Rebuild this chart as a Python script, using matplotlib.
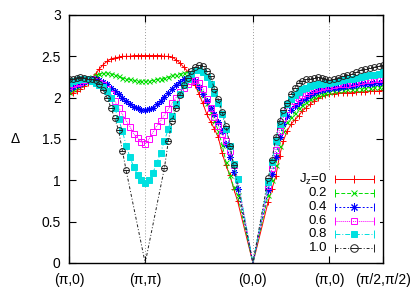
import numpy as np
import matplotlib
matplotlib.use('Agg')
import matplotlib.pyplot as plt
from matplotlib.patches import Rectangle

plt.rcParams['font.family'] = ['Liberation Sans', 'DejaVu Sans']
plt.rcParams['mathtext.fontset'] = 'custom'
plt.rcParams['mathtext.rm'] = 'Liberation Sans'
plt.rcParams['mathtext.it'] = 'Liberation Sans'

# k-path (pi,0) -> (pi,pi) -> (0,0) -> (pi,0) -> (pi/2,pi/2)
kpts = [(np.pi, 0), (np.pi, np.pi), (0, 0), (np.pi, 0), (np.pi / 2, np.pi / 2)]
klabels = ['(π,0)', '(π,π)', '(0,0)', '(π,0)', '(π/2,π/2)']
nsteps = [20, 28, 20, 12]

nan = np.nan

# gap Delta along the path, one list per Jz (segments joined end to end)
jz00 = ([2.04, 2.06, 2.08, 2.11, 2.14, 2.18, 2.23, 2.29, 2.35, 2.40, 2.44, 2.47, 2.48, 2.49, 2.50, 2.50, 2.50, 2.51, 2.51, 2.51, 2.51]
        + [2.51, 2.51, 2.51, 2.51, 2.50, 2.50, 2.49, 2.46, 2.42, 2.37, 2.32, 2.25, 2.15, 2.04, 1.93, 1.80, 1.71, 1.62, 1.52, 1.33, 1.18, 1.06, 0.90, 0.75, nan, nan, nan, 0]
        + [nan, nan, nan, 0.74, 0.90, 1.05, 1.30, 1.48, 1.60, 1.68, 1.73, 1.78, 1.84, 1.88, 1.92, 1.96, 1.99, 2.02, 2.03, 2.04]
        + [2.05, 2.06, 2.06, 2.06, 2.06, 2.07, 2.07, 2.07, 2.08, 2.08, 2.08, 2.09])
jz02 = ([2.07, 2.10, 2.13, 2.16, 2.19, 2.22, 2.25, 2.27, 2.29, 2.30, 2.30, 2.29, 2.28, 2.26, 2.24, 2.23, 2.22, 2.21, 2.20, 2.20, 2.20]
        + [2.20, 2.21, 2.22, 2.23, 2.24, 2.25, 2.27, 2.28, 2.29, 2.30, 2.30, 2.27, 2.20, 2.12, 2.03, 1.93, 1.83, 1.72, 1.60, 1.43, 1.22, 1.06, 0.92, 0.82, nan, nan, nan, 0]
        + [nan, nan, nan, 0.82, 1.00, 1.18, 1.42, 1.60, 1.70, 1.77, 1.82, 1.87, 1.91, 1.95, 1.98, 2.01, 2.03, 2.05, 2.06, 2.07]
        + [2.08, 2.09, 2.09, 2.10, 2.10, 2.11, 2.11, 2.12, 2.12, 2.13, 2.13, 2.14])
jz04 = ([2.11, 2.13, 2.15, 2.17, 2.19, 2.21, 2.22, 2.22, 2.21, 2.19, 2.16, 2.12, 2.08, 2.04, 2.00, 1.96, 1.92, 1.89, 1.87, 1.85, 1.85]
        + [1.86, 1.88, 1.92, 1.96, 2.01, 2.06, 2.11, 2.15, 2.19, 2.22, 2.24, 2.24, 2.20, 2.13, 2.05, 1.96, 1.88, 1.80, 1.71, 1.60, 1.44, 1.28, 1.10, 0.90, nan, nan, nan, 0]
        + [nan, nan, nan, 0.88, 1.08, 1.28, 1.52, 1.68, 1.78, 1.85, 1.90, 1.94, 1.97, 2.00, 2.03, 2.06, 2.08, 2.09, 2.10, 2.11]
        + [2.12, 2.12, 2.13, 2.14, 2.14, 2.15, 2.16, 2.16, 2.17, 2.18, 2.18, 2.19])
jz06 = ([2.14, 2.16, 2.18, 2.19, 2.21, 2.22, 2.22, 2.20, 2.18, 2.15, 2.10, 2.04, 1.96, 1.88, 1.80, 1.72, 1.65, 1.56, 1.51, 1.46, 1.44]
        + [1.50, 1.58, 1.66, 1.72, 1.79, 1.86, 1.93, 2.00, 2.07, 2.12, 2.17, 2.20, 2.21, 2.18, 2.11, 1.98, 1.88, 1.77, 1.66, 1.56, 1.47, 1.36, 1.18, 1.02, nan, nan, nan, 0]
        + [nan, nan, nan, 0.93, 1.15, 1.37, 1.60, 1.76, 1.86, 1.92, 1.96, 2.00, 2.03, 2.06, 2.08, 2.10, 2.12, 2.13, 2.14, 2.14]
        + [2.15, 2.16, 2.16, 2.17, 2.18, 2.19, 2.20, 2.21, 2.21, 2.22, 2.23, 2.24])
jz08 = ([2.18, 2.20, 2.21, 2.22, 2.22, 2.22, 2.20, 2.18, 2.15, 2.13, 2.08, 1.99, 1.87, 1.74, 1.60, 1.42, 1.28, 1.16, 1.07, 1.00, 0.97]
        + [1.00, 1.09, 1.21, 1.33, 1.48, 1.62, 1.78, 1.92, 2.04, 2.15, 2.23, 2.29, 2.33, 2.34, 2.31, 2.25, 2.17, 2.06, 1.94, 1.80, 1.62, 1.42, 1.20, 1.02, nan, nan, nan, 0]
        + [nan, nan, nan, 0.98, 1.22, 1.48, 1.68, 1.82, 1.92, 1.98, 2.03, 2.07, 2.10, 2.12, 2.14, 2.15, 2.16, 2.17, 2.18, 2.18]
        + [2.19, 2.20, 2.21, 2.22, 2.23, 2.24, 2.25, 2.26, 2.27, 2.28, 2.29, 2.31])
jz10 = ([2.22, 2.23, 2.24, 2.25, 2.24, 2.23, 2.22, 2.21, 2.17, 2.09, 2.00, 1.88, 1.75, 1.61, 1.36, 1.12, nan, nan, nan, nan, 0]
        + [nan, nan, nan, nan, 1.15, 1.47, 1.72, 1.88, 2.03, 2.15, 2.24, 2.32, 2.37, 2.40, 2.38, 2.32, 2.26, 2.10, 1.98, 1.83, 1.66, 1.42, 1.18, nan, nan, nan, nan, 0]
        + [nan, nan, nan, 1.03, 1.25, 1.52, 1.72, 1.85, 1.93, 2.04, 2.12, 2.18, 2.20, 2.22, 2.23, 2.24, 2.25, 2.24, 2.23, 2.21]
        + [2.22, 2.24, 2.26, 2.28, 2.29, 2.31, 2.33, 2.35, 2.36, 2.37, 2.38, 2.39])

series = [jz00, jz02, jz04, jz06, jz08, jz10]
labels = ['J$_z$=0', '0.2', '0.4', '0.6', '0.8', '1.0']
colors = ['#ff0000', '#00dd00', '#0000ff', '#ff00ff', '#00e0e0', '#222222']
lstyles = ['-', (0, (4, 2)), (0, (2, 2)), (0, (1, 1)), (0, (5, 2, 1, 2)), (0, (3, 2, 1, 2))]
markers = ['+', 'x', (8, 2, 0), 's', 's', 'o']
mfill = ['full', 'full', 'full', 'none', 'full', 'none']
msizes = [4.5, 3.6, 4.5, 3.8, 3.8, 4.2]

# x positions = distance along the k-path
seg_len = [np.hypot(b[0] - a[0], b[1] - a[1]) for a, b in zip(kpts[:-1], kpts[1:])]
kticks = np.concatenate([[0], np.cumsum(seg_len)])
x = np.concatenate([np.linspace(kticks[i], kticks[i + 1], n, endpoint=False)
                    for i, n in enumerate(nsteps)] + [[kticks[-1]]])

fig = plt.figure(figsize=(4.15, 2.9), dpi=100)
ax = fig.add_axes([69 / 415, 27 / 290, 314 / 415, 248 / 290])

for xt in kticks[1:-1]:
    ax.axvline(xt, color='#999999', ls=(0, (1, 2)), lw=0.7, zorder=0)

for y, lab, c, ls, m, fs, ms in zip(series, labels, colors, lstyles, markers, mfill, msizes):
    y = np.array(y, dtype=float)
    ok = np.isfinite(y)
    ax.plot(x[ok], y[ok], color=c, ls=ls, lw=0.7)
    pts = ok & (y > 0)
    ax.plot(x[pts], y[pts], ls='none', marker=m, ms=ms, color=c, mec=c,
            fillstyle=fs, mew=0.7)
    if m == 'o':
        ax.plot(x[pts], y[pts], ls='none', marker='_', ms=ms, color=c, mew=0.7)

ax.set_xlim(kticks[0], kticks[-1])
ax.set_ylim(0, 3)
ax.set_xticks(kticks)
ax.set_xticklabels(klabels)
ax.set_yticks(np.arange(0, 3.01, 0.5))
ax.set_yticklabels(['0', '0.5', '1', '1.5', '2', '2.5', '3'])
ax.tick_params(direction='in', top=True, right=True, length=5, width=0.8,
               labelsize=10)
ax.tick_params(axis='x', pad=7)
ax.tick_params(axis='y', pad=6)
for s in ax.spines.values():
    s.set_linewidth(1.0)

fig.text(15 / 415, 1 - 139 / 290, 'Δ', ha='center', va='center', fontsize=10)

# key, drawn by hand in the gnuplot way (labels right-aligned, line sample after)
ax.add_patch(Rectangle((0.70, 0.03), 0.29, 0.345, transform=ax.transAxes,
                       facecolor='white', edgecolor='none', zorder=2))
leg_y = [0.337, 0.282, 0.224, 0.170, 0.117, 0.062]
for yy, lab, c, ls, m, fs, ms in zip(leg_y, labels, colors, lstyles, markers, mfill, msizes):
    ax.text(0.822, yy, lab, transform=ax.transAxes, ha='right', va='center',
            fontsize=9.5, zorder=3)
    ax.plot([0.847, 0.971], [yy, yy], transform=ax.transAxes, color=c, ls=ls,
            lw=0.7, zorder=3)
    ax.plot([0.847, 0.971], [yy, yy], transform=ax.transAxes, ls='none', marker='|',
            ms=6, color=c, mew=0.7, zorder=3)
    ax.plot([0.908], [yy], transform=ax.transAxes, ls='none', marker=m, ms=ms * 1.3,
            color=c, mec=c, fillstyle=fs, mew=0.7, zorder=3)
    if m == 'o':
        ax.plot([0.908], [yy], transform=ax.transAxes, ls='none', marker='_',
                ms=ms * 1.3, color=c, mew=0.7, zorder=3)

fig.savefig('out.png', dpi=100)
